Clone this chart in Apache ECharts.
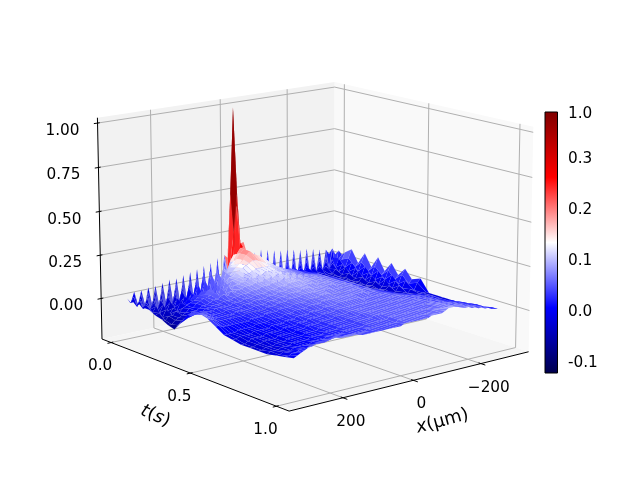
<!DOCTYPE html>
<html><head><meta charset="utf-8">
<style>html,body{margin:0;padding:0;background:#fff}#c{width:640px;height:480px}</style>
<script src="https://cdn.jsdelivr.net/npm/echarts@6/dist/echarts.min.js"></script>
</head><body><div id="c"></div>
<script>
// surface samples, z in hundredths, one array per t row; columns run x = 300 ... -300
const xNodes=[300,290,280,270,260,250,240,230,220,210,200,190,180,170,160,150,140,130,120,110,100,90,80,70,60,50,40,30,20,10,0,-10,-20,-30,-40,-50,-60,-70,-80,-90,-100,-110,-120,-130,-140,-150,-160,-170,-180,-190,-200,-210,-220,-230,-240,-250,-260,-270,-280,-290,-300];
const tNodes=[0,.02,.04,.06,.08,.1,.14,.18,.22,.26,.3,.34,.38,.42,.46,.5,.55,.6,.65,.7,.75,.8,.85,.9,.95,1];
const z00=[0,-3,3,-5,3,-6,4,-7,4,-8, 5,-8,6,-8,6,-9,7,-9,8,-9, 9,-10,10,-11,11,-12,13,-12,14,12, 45,9,-1,10,-4,11,-6,12,-7,13, -8,12,-8,11,-8,10,-8,10,-8,9, -8,8,-8,8,-8,7,-7,6,-7,5, 2];
const z02=[-2,1,-5,2,-6,2,-7,3,-8,3, -9,4,-9,4,-9,5,-9,5,-10,6, -9,8,-10,10,-10,11,-10,13,6,50, 100,50,9,7,-3,3,9,-6,10,-7, 10,-8,9,-8,9,-8,9,-8,8,-8, 8,-8,7,-8,7,-7,6,-7,5,-6, 6];
const z04=[-1,-4,0,-6,1,-7,1,-8,2,-8, 3,-9,3,-9,4,-9,4,-9,5,-9, 7,-7,8,-6,9,-4,10,3,12,28, 50,18,10,8,1,7,-5,8,-6,8, -7,8,-8,7,-8,7,-8,7,-8,6, -8,6,-8,5,-7,4,-7,3,-6,6, 3];
const z06=[-2,0,-5,1,-6,1,-7,2,-7,2, -7,3,-7,3,-7,4,-6,5,-6,7, -4,9,-2,9,1,10,6,12,16,44, 22,22,13,9,7,5,6,-3,6,-5, 6,-6,6,-6,6,-6,5,-6,5,-6, 4,-6,4,-6,3,-6,3,-5,2,-3, 6];
const z08=[-1,-4,-1,-5,0,-6,0,-6,1,-6, 2,-6,2,-6,3,-5,4,-5,6,-4, 8,-2,9,1,10,8,11,13,17,20, 20,16,15,12,10,8,5,5,-1,6, -3,6,-3,5,-3,5,-3,4,-3,4, -3,3,-3,3,-3,2,-3,2,3,2, 4];
const z10=[-2,-1,-4,-1,-6,0,-6,1,-6,1, -5,3,-5,4,-4,5,-4,7,-3,8, -1,10,1,10,8,11,12,15,18,20, 18,16,14,12,10,8,7,4,5,1, 4,-1,3,-1,3,-2,2,-2,2,-2, 1,-2,1,-2,0,-2,1,-2,3,2, 6];
const z14=[-2,-4,-1,-5,-1,-5,0,-4,1,-4, 1,-3,2,-2,6,-2,8,-1,10,0, 10,3,10,8,10,12,14,16,18,20, 18,17,16,14,13,11,9,8,7,6, 5,5,4,3,2,2,1,0,0,-1, -2,-2,-3,-3,-3,-1,-3,1,-1,4, 9];
const z18=[-4,-3,-6,-2,-5,-2,-4,0,-2,1, 1,3,2,4,-1,7,0,8,2,9, 5,9,9,11,12,13,14,15,16,16, 15,14,13,12,11,10,9,8,7,6, 6,5,4,3,3,2,1,1,0,-1, -2,-2,-3,-3,-4,-3,1,-2,3,0, 2];
const z22=[-5,-6,-4,-4,-2,-3,-1,0,1,2, 3,4,4,6,7,1,8,3,9,5, 9,9,10,10,11,11,12,13,13,13, 13,13,12,11,11,10,9,8,7,6, 6,5,4,3,3,3,2,1,0,-1, -2,-2,-3,-3,-3,-1,-3,1,-1,4, 9];
const z26=[-7,-7,-5,-4,-3,-2,0,0,2,3, 4,4,5,6,3,8,4,8,6,8, 8,9,9,10,10,10,11,11,12,12, 12,12,11,10,10,9,8,8,7,6, 6,5,5,4,3,3,2,1,0,-1, -2,-2,-3,-3,-4,-3,1,-2,3,0, 2];
const z30=[-8,-6,-4,-3,-2,0,0,1,2,2, 3,4,4,5,6,5,7,6,7,7, 8,8,8,9,9,9,10,10,10,11, 11,11,10,10,9,9,8,7,7,7, 7,6,6,5,4,3,3,2,1,0, -1,-2,-3,-3,-3,-1,-3,1,-1,4, 9];
const z34=[-3,-2,-1,0,0,1,1,2,2,3, 3,3,4,4,4,5,5,6,6,6, 7,7,7,8,8,8,9,9,9,10, 10,10,9,9,9,8,8,7,7,7, 6,6,6,5,4,3,3,2,1,0, -1,-2,-3,-3,-4,-3,1,-2,3,0, 2];
const z38=[3,2,2,2,2,2,2,2,3,3, 3,3,3,4,4,4,5,5,5,6, 6,6,6,7,7,7,8,8,8,9, 9,9,9,8,8,8,8,7,7,7, 6,6,6,5,4,3,3,2,1,0, -1,-2,-3,-3,-3,-1,-3,1,-1,4, 8];
const z42=[6,5,4,3,3,2,2,2,2,3, 3,3,3,3,4,4,4,5,5,5, 5,6,6,6,7,7,7,8,8,8, 8,8,8,8,8,7,7,7,7,7, 6,6,6,5,4,3,3,2,1,0, -1,-2,-3,-3,-4,-3,1,-2,3,0, 2];
const z46=[6,5,4,3,2,2,2,2,2,2, 3,3,3,3,3,4,4,4,4,5, 5,5,6,6,6,7,7,7,7,8, 8,8,7,7,7,7,7,7,7,6, 6,6,6,5,4,3,3,2,1,0, -1,-2,-3,-3,-3,-1,-3,1,-1,4, 7];
const z50=[5,4,3,2,2,2,2,2,2,2, 2,3,3,3,3,3,3,4,4,4, 5,5,5,6,6,6,6,7,7,7, 7,7,7,7,7,7,6,6,6,6, 6,6,6,5,4,3,3,2,1,0, -1,-1,-2,-3,-4,-3,0,-2,2,0, 2];
const z55=[2,2,1,1,1,1,1,1,1,1, 2,2,2,2,3,3,3,3,4,4, 4,4,5,5,5,5,6,6,6,6, 7,7,7,6,6,6,6,6,6,6, 6,6,5,5,4,4,3,3,2,1, 0,0,-1,-2,-3,-2,-3,-1,-2,2, 4];
const z60=[-1,-1,-1,-1,0,0,0,0,0,1, 1,1,1,2,2,2,2,3,3,3, 4,4,4,4,5,5,5,5,6,6, 6,6,6,6,6,6,6,6,6,6, 6,5,5,5,5,4,3,3,2,1, 1,0,0,-1,-1,-2,-2,-2,-2,-2, -3];
const z65=[-2,-2,-1,-1,-1,-1,0,0,0,0, 0,1,1,1,1,2,2,2,3,3, 3,3,4,4,4,4,5,5,5,5, 6,6,6,6,6,6,6,5,5,5, 5,5,5,5,5,5,4,4,3,3, 2,2,1,1,0,0,-1,-1,-2,-2, -3];
const z70=[-3,-3,-2,-1,-1,-1,-1,0,0,0, 0,0,1,1,1,1,2,2,2,3, 3,3,3,4,4,4,4,5,5,5, 5,5,5,5,5,5,5,5,5,5, 5,5,5,5,5,5,5,4,4,3, 3,2,2,1,1,0,0,-1,-2,-2, -3];
const z75=[-3,-3,-2,-2,-1,-1,-1,-1,0,0, 0,0,0,1,1,1,2,2,2,2, 3,3,3,3,4,4,4,4,5,5, 5,5,5,5,5,5,5,5,5,5, 5,5,5,5,5,5,5,4,4,4, 3,3,2,2,1,0,-1,-2,-2,-2, -3];
const z80=[-3,-3,-2,-2,-2,-1,-1,-1,0,0, 0,0,0,1,1,1,1,2,2,2, 3,3,3,3,3,4,4,4,4,5, 5,5,5,5,5,5,5,5,5,5, 5,5,5,5,5,5,5,5,4,4, 4,3,3,2,2,1,1,0,-1,-2, -3];
const z85=[-3,-2,-2,-2,-1,-1,-1,0,0,0, 0,0,1,1,1,1,2,2,2,2, 3,3,3,3,3,4,4,4,4,4, 5,5,5,5,5,5,5,5,5,5, 5,5,5,5,5,5,5,5,5,4, 4,4,3,3,2,2,1,1,0,-1, -2];
const z90=[-2,-2,-1,-1,-1,0,0,0,0,0, 1,1,1,1,2,2,2,2,2,3, 3,3,3,3,3,4,4,4,4,4, 4,4,5,5,5,5,5,5,5,5, 5,5,5,5,5,6,6,6,5,5, 5,4,4,3,3,2,2,1,1,0, -1];
const z95=[-1,-1,0,0,1,1,1,2,2,2, 2,2,3,3,3,3,3,3,3,3, 3,3,3,4,4,4,4,4,4,4, 4,4,5,5,5,5,5,5,5,5, 5,5,6,6,6,6,6,6,6,5, 5,5,4,4,3,3,2,2,1,0, 0];
const zA0=[0,1,2,3,4,4,5,5,6,6, 6,6,6,6,5,5,5,5,5,4, 4,4,4,4,4,4,4,4,4,4, 4,5,5,5,5,5,5,5,5,6, 6,6,6,7,8,8,8,8,8,6, 6,5,5,4,4,3,3,2,2,1, 0];
const zRows=[z00,z02,z04,z06,z08,z10,z14,z18,z22,z26,z30,z34,z38,z42,z46,z50,z55,z60,z65,z70,z75,z80,z85,z90,z95,zA0];

const xTicks=[200,0,-200], xTickLabels=['200','0','\u2212200'];
const tTicks=[0,.5,1], tTickLabels=['0.0','0.5','1.0'];
const zTicks=[0,.25,.5,.75,1], zTickLabels=['0.00','0.25','0.50','0.75','1.00'];
const cbLabels=['-0.1','0.0','0.1','0.2','0.3','1.0'], cbFractions=[.046,.241,.437,.632,.828,1];
const normValues=[-.1,0,.1,.2,.3,.5,1], normFractions=[.046,.241,.437,.632,.828,.95,1];

// view
const xLim=[-347,347], tLim=[-.06,1.07], zLim=[-.236,1.03];
const elev=14*Math.PI/180, azim=51*Math.PI/180, DIST=10, HALF_XY=.5953, HALF_Z=.4464, SCALE=2575, CX=313.5, CY=235;
const sa=Math.sin(azim),ca=Math.cos(azim),se=Math.sin(elev),ce=Math.cos(elev);
function project(x,t,z){
  const X=(x-(xLim[0]+xLim[1])/2)/((xLim[1]-xLim[0])/2)*HALF_XY;
  const Y=(t-(tLim[0]+tLim[1])/2)/((tLim[1]-tLim[0])/2)*HALF_XY;
  const Z=(z-(zLim[0]+zLim[1])/2)/((zLim[1]-zLim[0])/2)*HALF_Z;
  const d=DIST-(ce*ca*X+ce*sa*Y+se*Z);
  return [(-sa*X+ca*Y)/d, (-se*ca*X-se*sa*Y+ce*Z)/d];
}
// seismic colormap
const seismic=[[0,0,0,76.5],[.25,0,0,255],[.5,255,255,255],[.75,255,0,0],[1,127.5,0,0]];
function cmap(f){
  f=Math.max(0,Math.min(1,f));
  for(let i=1;i<seismic.length;i++){ if(f<=seismic[i][0]){ const a=seismic[i-1],b=seismic[i],k=(f-a[0])/(b[0]-a[0]);
    return 'rgb('+[1,2,3].map(n=>Math.round(a[n]+(b[n]-a[n])*k)).join(',')+')'; } }
}
function norm(v){
  if(v<=normValues[0]) return Math.max(0,normFractions[0]+(v-normValues[0])*1.96);
  for(let i=1;i<normValues.length;i++){ if(v<=normValues[i]) return normFractions[i-1]+(v-normValues[i-1])/(normValues[i]-normValues[i-1])*(normFractions[i]-normFractions[i-1]); }
  return 1;
}

// surface cells, far to near
const cells=[];
for(let j=0;j<tNodes.length-1;j++) for(let i=xNodes.length-2;i>=0;i--) cells.push([i,j]);

const seg=(api,a,b,color,w)=>{const p=api.coord(project(...a)),q=api.coord(project(...b));
  return {type:'line',shape:{x1:p[0],y1:p[1],x2:q[0],y2:q[1]},style:{stroke:color,lineWidth:w},silent:true};};
const poly=(api,pts,fill)=>({type:'polygon',shape:{points:pts.map(p=>api.coord(project(...p)))},style:{fill:fill}});
const [x0,x1]=xLim,[t0,t1]=tLim,[z0,z1]=zLim;
const GRID='#b0b0b0';
const panes=[
  [[[x0,t0,z0],[x1,t0,z0],[x1,t0,z1],[x0,t0,z1]],'#f2f2f2'],
  [[[x0,t0,z0],[x0,t1,z0],[x0,t1,z1],[x0,t0,z1]],'#f9f9f9'],
  [[[x0,t0,z0],[x1,t0,z0],[x1,t1,z0],[x0,t1,z0]],'#f5f5f5']
];
const gridSegs=[];
xTicks.forEach(v=>{gridSegs.push([[v,t1,z0],[v,t0,z0]],[[v,t0,z0],[v,t0,z1]]);});
tTicks.forEach(v=>{gridSegs.push([[x1,v,z0],[x0,v,z0]],[[x0,v,z0],[x0,v,z1]]);});
zTicks.forEach(v=>{gridSegs.push([[x1,t0,v],[x0,t0,v]],[[x0,t0,v],[x0,t1,v]]);});
const axisSegs=[[[x1,t1,z0],[x0,t1,z0]],[[x1,t1,z0],[x1,t0,z0]],[[x1,t0,z0],[x1,t0,z1]]];
xTicks.forEach(v=>axisSegs.push([[v,t1-.012,z0],[v,t1+.024,z0]]));
tTicks.forEach(v=>axisSegs.push([[x1-6,v,z0],[x1+10,v,z0]]));
zTicks.forEach(v=>axisSegs.push([[x1-6,t0,v],[x1+10,t0,v]]));

const FONT='"DejaVu Sans"';
const labels=[];
xTicks.forEach((v,i)=>labels.push({at:[v,t1,z0],dx:8,dy:24,text:xTickLabels[i]}));
tTicks.forEach((v,i)=>labels.push({at:[x1,v,z0],dx:-11,dy:23.5,text:tTickLabels[i]}));
zTicks.forEach((v,i)=>labels.push({at:[x1,t0,v],dx:-35,dy:8,text:zTickLabels[i]}));

const rich={i:{fontFamily:FONT,fontSize:18,fontStyle:'italic',fill:'#000'},n:{fontFamily:FONT,fontSize:18,fill:'#000'}};
const titles=[
  {at:[x1,.5,z0],dx:-35,dy:43,rot:-24,text:'{i|t}{n|(}{i|s}{n|)}'},
  {at:[0,t1,z0],dx:29,dy:41,rot:15,text:'{i|x}{n|(\u03bcm)}'}
];

const chart=echarts.init(document.getElementById('c'),null,{renderer:'canvas'});
const custom=(z,data,fn)=>({type:'custom',coordinateSystem:'cartesian2d',xAxisIndex:0,yAxisIndex:0,z:z,clip:false,silent:true,animation:false,progressive:0,data:data,encode:{x:0,y:1},renderItem:fn});
const gradStops=seismic.map(s=>({offset:s[0],color:'rgb('+Math.round(s[1])+','+Math.round(s[2])+','+Math.round(s[3])+')'}));

chart.setOption({
  animation:false,backgroundColor:'#fff',
  grid:[{left:0,top:0,width:640,height:480,show:false},
        {left:545,top:112,width:12.5,height:261,show:true,borderColor:'#000',borderWidth:1,backgroundColor:'transparent',z:8}],
  xAxis:[{type:'value',gridIndex:0,show:false,min:(0-CX)/SCALE,max:(640-CX)/SCALE},
         {type:'value',gridIndex:1,show:false,min:0,max:1}],
  yAxis:[{type:'value',gridIndex:0,show:false,min:(CY-480)/SCALE,max:CY/SCALE},
         {type:'value',gridIndex:1,position:'right',min:0,max:1,splitLine:{show:false},axisLine:{show:false},
          axisTick:{show:true,length:5,customValues:cbFractions,lineStyle:{color:'#000',width:1}},
          axisLabel:{show:false}}],
  series:[
    custom(1,panes.map((_,i)=>[i,0]),(p,api)=>{const d=panes[p.dataIndex];return poly(api,d[0],d[1]);}),
    custom(2,gridSegs.map((_,i)=>[i,0]),(p,api)=>{const s=gridSegs[p.dataIndex];return seg(api,s[0],s[1],GRID,1);}),
    custom(3,axisSegs.map((_,i)=>[i,0]),(p,api)=>{const s=axisSegs[p.dataIndex];return seg(api,s[0],s[1],'#000',1);}),
    custom(4,cells,(p,api)=>{
      const [i,j]=cells[p.dataIndex];
      const corners=[[i,j],[i+1,j],[i+1,j+1],[i,j+1]].map(([a,b])=>[xNodes[a],tNodes[b],zRows[b][a]/100]);
      const m=(corners[0][2]+corners[1][2]+corners[2][2]+corners[3][2])/4;
      const g=poly(api,corners,cmap(norm(m)));
      g.style.stroke='rgba(255,255,255,0.1)';g.style.lineWidth=.4;
      return g;
    }),
    custom(6,labels.map((_,i)=>[i,0]),(p,api)=>{const l=labels[p.dataIndex];const c=api.coord(project(...l.at));
      return {type:'text',x:c[0]+l.dx,y:c[1]+l.dy,style:{text:l.text,fontFamily:FONT,fontSize:15.3,fill:'#000',align:'center',verticalAlign:'middle'}};}),
    custom(6,titles.map((_,i)=>[i,0]),(p,api)=>{const l=titles[p.dataIndex];const c=api.coord(project(...l.at));
      return {type:'text',x:c[0]+l.dx,y:c[1]+l.dy,rotation:l.rot*Math.PI/180,style:{text:l.text,rich:rich,align:'center',verticalAlign:'middle',fontFamily:FONT,fontSize:18,fill:'#000'}};}),
    {type:'custom',coordinateSystem:'cartesian2d',xAxisIndex:1,yAxisIndex:1,z:7,silent:true,animation:false,data:[[0,0]],encode:{x:0,y:1},
     renderItem:(p,api)=>{const a=api.coord([0,1]),b=api.coord([1,0]);
       return {type:'rect',shape:{x:a[0],y:a[1],width:b[0]-a[0],height:b[1]-a[1]},
         style:{fill:{type:'linear',x:0,y:1,x2:0,y2:0,colorStops:gradStops}}};}},
    {type:'custom',coordinateSystem:'cartesian2d',xAxisIndex:1,yAxisIndex:1,z:7,silent:true,animation:false,clip:false,data:cbFractions.map(f=>[1,f]),encode:{x:0,y:1},
     renderItem:(p,api)=>{const c=api.coord([1,cbFractions[p.dataIndex]]);
       return {type:'text',x:c[0]+10.5,y:c[1]+2,style:{text:cbLabels[p.dataIndex],fontFamily:FONT,fontSize:15.3,fill:'#000',align:'left',verticalAlign:'middle'}};}}
  ]
});
</script></body></html>
